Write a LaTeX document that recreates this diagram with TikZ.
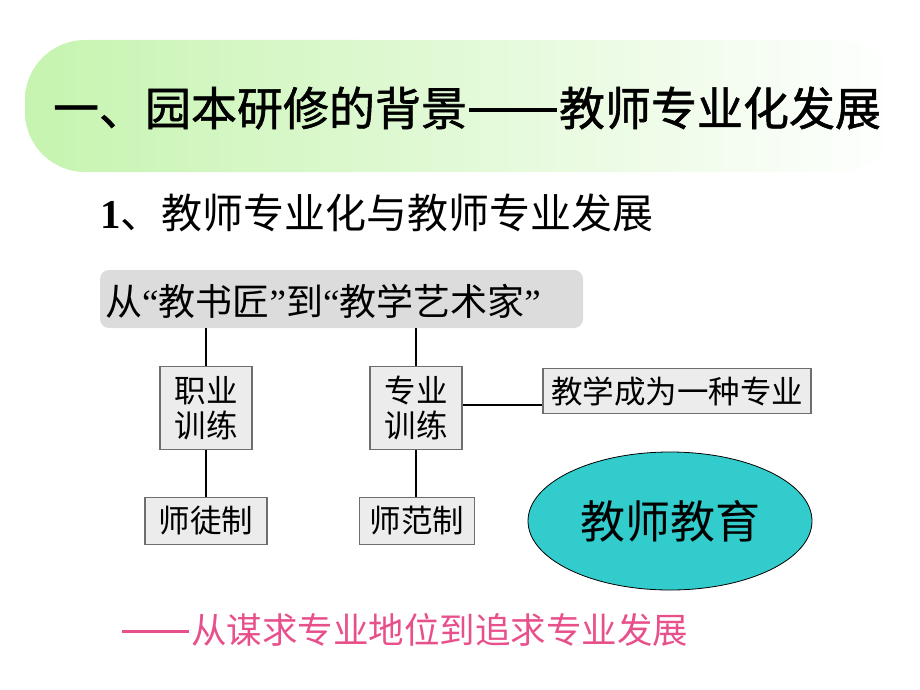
\documentclass[tikz,border=0pt]{standalone}
\usepackage{fontspec}
\setmainfont{Liberation Serif}
\newfontfamily\hei{Noto Sans CJK SC}
\newfontfamily\heib[FakeBold=1.2]{Noto Sans CJK SC}
\newfontfamily\qfont{Liberation Serif}
\usetikzlibrary{shapes.geometric, positioning}

\definecolor{bannergreen}{RGB}{198,244,176}
\definecolor{bargrey}{RGB}{220,220,220}
\definecolor{boxgrey}{RGB}{236,236,236}
\definecolor{edgegrey}{RGB}{110,110,110}
\definecolor{tealfill}{RGB}{51,204,204}
\definecolor{pinktext}{RGB}{232,80,140}

\newcommand{\qopen}{{\qfont “}}
\newcommand{\qclose}{{\qfont ”}}
% double dash drawn as one bar: #1 thickness
\newcommand{\ddash}[1]{\hspace{0.05em}\rule[0.3em]{1.9em}{#1}\hspace{0.05em}}

\tikzset{
  box/.style={draw=edgegrey, line width=1.4pt, fill=boxgrey, inner sep=0pt,
    font=\hei\fontsize{31.5}{35}\selectfont, align=center},
  link/.style={line width=2.6pt, black}
}

\begin{document}
\begin{tikzpicture}[x=1pt, y=-1pt]
	\useasboundingbox (0,0) rectangle (920,690);
	% title banner
	\shade[left color=bannergreen, right color=white, rounded corners=60pt]
		(25,40) rectangle (900,172);
	\node[font=\heib\fontsize{46}{50}\selectfont](title) at (467,108)
		{一、园本研修的背景\ddash{0.09em}教师专业化发展};
	\node[anchor=west, inner sep=0pt](sub) at (100,213)
		{\fontsize{41}{46}\selectfont{\bfseries 1}\hei 、教师专业化与教师专业发展};
	% diagram
	\node[fill=bargrey, rounded corners=9pt, minimum width=483pt, minimum height=58pt,
		inner sep=0pt](top) at (341.5,299) {};
	\node[anchor=west, inner sep=0pt, font=\hei\fontsize{37}{39}\selectfont](toptext)
		at (105,301) {从\qopen 教书匠\qclose 到\qopen 教学艺术家\qclose};
	\node[box, minimum width=92pt, minimum height=83pt](zhiye) at (206,408)
		{职业\\训练};
	\node[box, minimum width=92pt, minimum height=83pt](zhuanye) at (416,408)
		{专业\\训练};
	\node[box, minimum width=268pt, minimum height=45pt](jiaoxue) at (677,391)
		{教学成为一种专业};
	\node[box, minimum width=122pt, minimum height=47pt](shitu) at (206,521)
		{师徒制};
	\node[box, minimum width=115pt, minimum height=47pt](shifan) at (417,521)
		{师范制};
	\node[ellipse, draw=black, line width=0.8pt, fill=tealfill, minimum width=284pt,
		minimum height=138pt, inner sep=0pt,
		font=\hei\fontsize{45}{48}\selectfont](jiaoyu) at (670,521) {教师教育};
	\draw[link] (top.south -| zhiye) -- (zhiye);
	\draw[link] (top.south -| zhuanye.north) -- (zhuanye);
	\draw[link] (zhiye) -- (shitu);
	\draw[link] (zhuanye.south) -- (zhuanye.south |- shifan.north);
	\draw[link] (zhuanye.east |- 0,405) -- (jiaoxue.west |- 0,405);
	% bottom line
	\node[anchor=west, inner sep=0pt, text=pinktext,
		font=\hei\fontsize{35.5}{38}\selectfont](motto) at (120,630)
		{\ddash{0.07em}从谋求专业地位到追求专业发展};
\end{tikzpicture}
\end{document}
